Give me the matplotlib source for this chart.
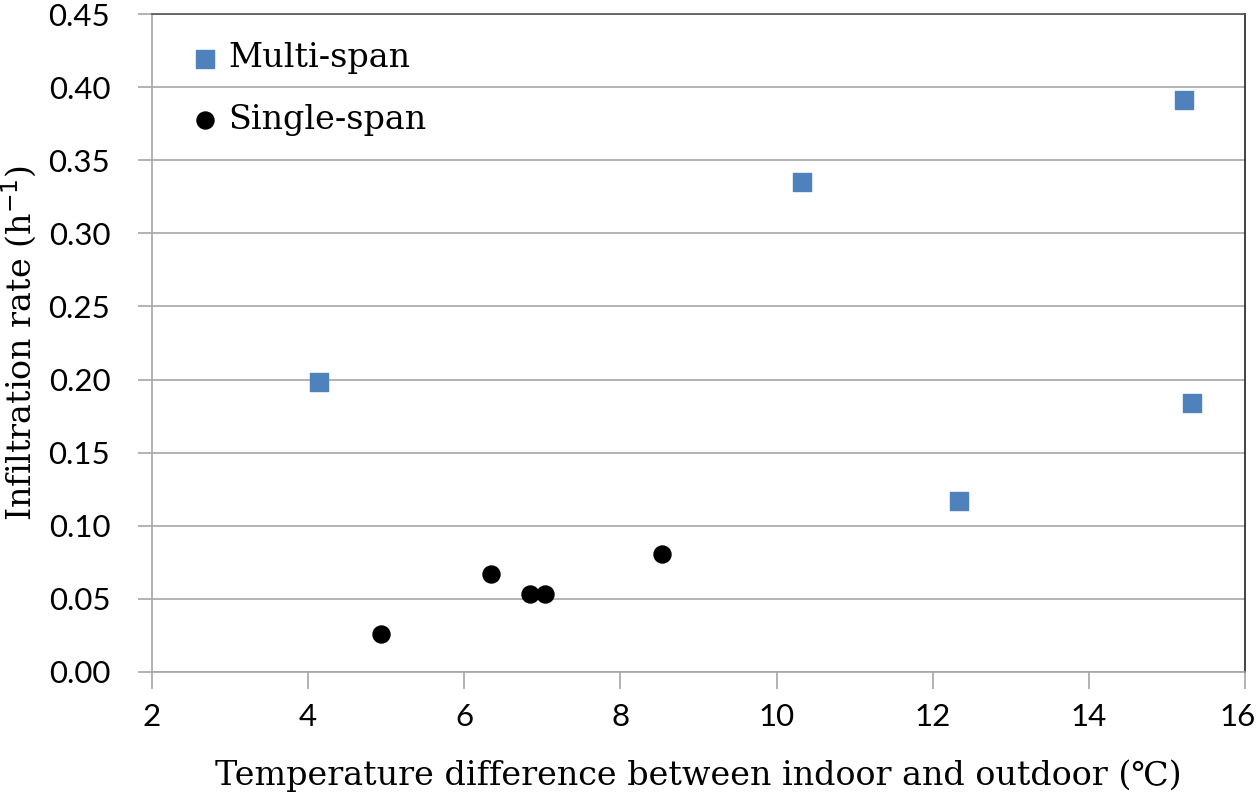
import matplotlib.pyplot as plt
from matplotlib.transforms import ScaledTranslation

# data
multi_x = [4.14, 10.33, 15.22, 15.32, 12.34]
multi_y = [0.198, 0.335, 0.391, 0.184, 0.117]
single_x = [4.93, 6.34, 6.84, 7.03, 8.53]
single_y = [0.026, 0.067, 0.053, 0.053, 0.081]

xticks = [2, 4, 6, 8, 10, 12, 14, 16]
yticks = [0.00, 0.05, 0.10, 0.15, 0.20, 0.25, 0.30, 0.35, 0.40, 0.45]

serif = ['DejaVu Serif', 'Noto Sans CJK KR']
tickfont = 'Lato'

fig = plt.figure(figsize=(12.6, 7.96), dpi=100)
ax = fig.add_axes([0.1206, 0.1558, 0.8675, 0.8266])

ax.scatter(multi_x, multi_y, marker='s', s=150, color='#4F81BD', label='Multi-span', zorder=3)
ax.scatter(single_x, single_y, marker='o', s=150, color='black', label='Single-span', zorder=3)

ax.set_xlim(2, 16)
ax.set_ylim(0, 0.45)
ax.set_xticks(xticks)
ax.set_yticks(yticks)
ax.set_yticklabels([f"{v:.2f}" for v in yticks])
ax.yaxis.grid(True, color='#A6A6A6', linewidth=1.2)
ax.set_axisbelow(True)

ax.tick_params(axis='x', length=12, width=1.2, color='#A6A6A6', pad=10)
ax.tick_params(axis='y', length=10, width=1.2, color='#A6A6A6', pad=20)

for lab in ax.get_xticklabels() + ax.get_yticklabels():
    lab.set_fontfamily(tickfont)
    lab.set_fontsize(22.5)

# keep the last x label inside the figure
last = ax.get_xticklabels()[-1]
last.set_transform(last.get_transform() + ScaledTranslation(-5 / 72, 0, fig.dpi_scale_trans))

ax.spines['left'].set_color('#A6A6A6')
ax.spines['bottom'].set_color('#A6A6A6')
ax.spines['top'].set_color('#555555')
ax.spines['right'].set_color('#222222')
for s in ax.spines.values():
    s.set_linewidth(1.2)

ax.set_xlabel('Temperature difference between indoor and outdoor (\u2103)',
              family=serif, fontsize=24, labelpad=21)
ax.set_ylabel('Infiltration rate (h$^{-1}$)', family=serif, fontsize=24, labelpad=7)

leg = ax.legend(loc='upper left', frameon=False, prop={'family': serif, 'size': 24},
                handlelength=1.0, handletextpad=0.2, labelspacing=0.88,
                borderpad=0, borderaxespad=0, bbox_to_anchor=(0.0334, 0.957))

fig.savefig('out.png', dpi=100)
